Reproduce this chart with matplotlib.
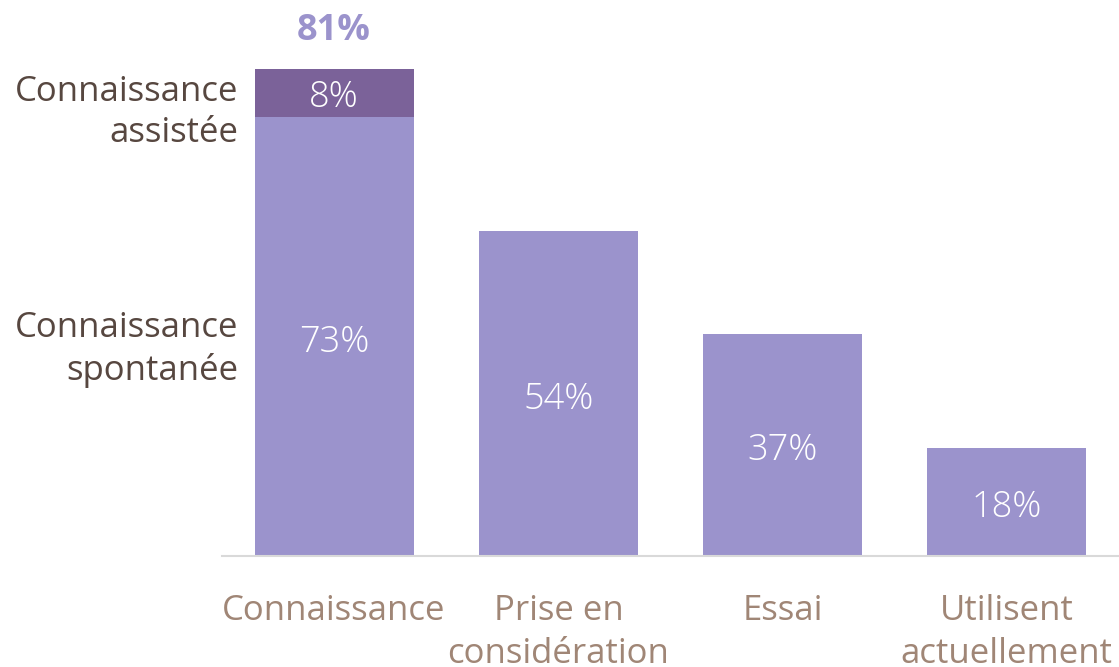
import matplotlib.pyplot as plt

categories = ['Connaissance', 'Prise en\nconsidération', 'Essai', 'Utilisent\nactuellement']
spontaneous = [73, 54, 37, 18]
assisted = [8, 0, 0, 0]

bar_color = '#9B93CC'
top_color = '#7B6299'
left_txt = '#574740'
tick_txt = '#A08676'

plt.rcParams['font.family'] = ['Open Sans', 'DejaVu Sans']

fig = plt.figure(figsize=(11.19, 6.67), dpi=100)
ax = fig.add_axes([222 / 1119, 111 / 667, 897 / 1119, 541 / 667])

x = list(range(len(categories)))
ax.bar(x, spontaneous, width=0.71, color=bar_color)
ax.bar(x[:1], assisted[:1], bottom=spontaneous[:1], width=0.71, color=top_color)

ax.set_xlim(-0.5, 3.5)
ax.set_ylim(0, 90)

# value labels inside bars
for xi, v in zip(x, spontaneous):
    ax.annotate(f'{v}%', (xi, v / 2), xytext=(0, -4), textcoords='offset points',
                ha='center', va='center', color='white', fontsize=26, fontweight='light')
ax.annotate(f'{assisted[0]}%', (x[0], spontaneous[0] + assisted[0] / 2), xytext=(0, -3),
            textcoords='offset points', ha='center', va='center', color='white',
            fontsize=26, fontweight='light')

# total above first bar
total = spontaneous[0] + assisted[0]
ax.annotate(f'{total}%', (x[0], total), xytext=(0, 21), textcoords='offset points',
            ha='center', va='baseline', color=bar_color, fontsize=26, fontweight='bold')

# segment labels on the left
ax.annotate('Connaissance\nassistée', (-0.425, spontaneous[0] + assisted[0] / 2),
            xytext=(0, -14), textcoords='offset points', ha='right', va='center',
            color=left_txt, fontsize=25, linespacing=1.3, annotation_clip=False)
ax.annotate('Connaissance\nspontanée', (-0.425, spontaneous[0] / 2),
            xytext=(0, -9), textcoords='offset points', ha='right', va='center',
            color=left_txt, fontsize=25, linespacing=1.3, annotation_clip=False)

ax.set_xticks(x)
ax.set_xticklabels(categories, fontsize=25, color=tick_txt, linespacing=1.38)
ax.tick_params(axis='x', length=0, pad=27)
ax.set_yticks([])
for s in ['top', 'right', 'left']:
    ax.spines[s].set_visible(False)
ax.spines['bottom'].set_color('#D9D9D9')
ax.spines['bottom'].set_linewidth(1.5)

fig.savefig('out.png', dpi=100, facecolor='white')
